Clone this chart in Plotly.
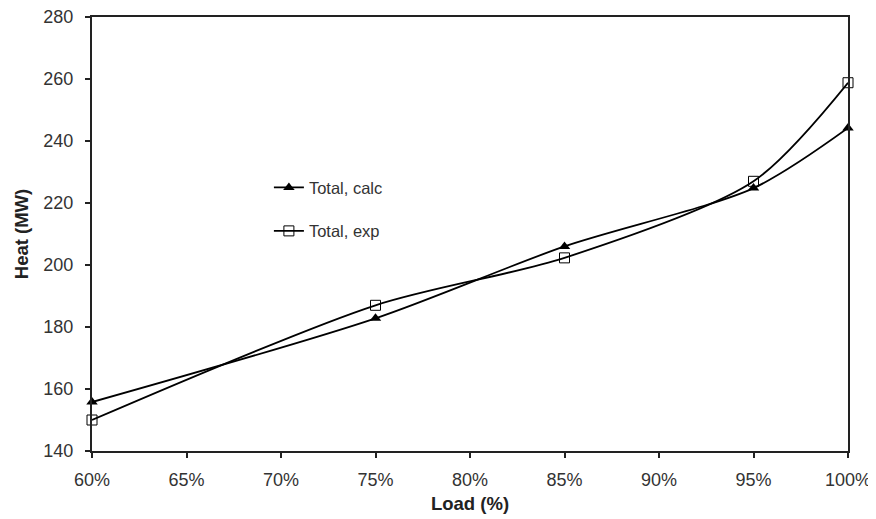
import plotly.graph_objects as go

load = [60, 75, 85, 95, 100]
calc = [155.8, 182.8, 206.0, 224.8, 244.2]
exp_ = [150.0, 187.0, 202.3, 227.0, 258.8]
x_ticks = [60, 65, 70, 75, 80, 85, 90, 95, 100]
x_labels = [f"{v}%" for v in x_ticks]

fig = go.Figure()
fig.add_trace(go.Scatter(
    x=load, y=calc, name="Total, calc", mode="lines+markers", legendgroup="a",
    line=dict(color="black", width=1.8, shape="spline", smoothing=0.8),
    marker=dict(symbol="triangle-up", size=10, color="black"),
    cliponaxis=False,
))
fig.add_trace(go.Scatter(
    x=load, y=exp_, name="Total, exp", mode="lines+markers", legendgroup="b",
    line=dict(color="black", width=1.8, shape="spline", smoothing=0.8),
    marker=dict(symbol="square-open", size=10, color="black", line=dict(width=1)),
    cliponaxis=False,
))

font = "Liberation Sans, Arial, sans-serif"
fig.update_layout(
    width=868, height=511,
    margin=dict(l=84, r=28, t=9, b=68, autoexpand=False),
    paper_bgcolor="white", plot_bgcolor="white",
    font=dict(family=font, size=18, color="#333"),
    showlegend=True,
    legend=dict(x=0.234, y=0.647, xanchor="left", yanchor="top",
                bgcolor="rgba(0,0,0,0)", tracegroupgap=19,
                traceorder="grouped", font=dict(size=16.5, color="#333"),
                itemwidth=30),
    xaxis=dict(
        range=[60, 100], tickvals=x_ticks, ticktext=x_labels,
        showgrid=False, zeroline=False, showline=True, linecolor="#222",
        linewidth=2, mirror=True, ticks="outside", ticklen=5, tickwidth=2,
        tickcolor="#222", tickfont=dict(size=18, color="#333"),
        ticklabeloverflow="allow", ticklabelstandoff=6,
        title=dict(text="<b>Load (%)</b>", font=dict(size=18.5, color="#222"), standoff=8),
    ),
    yaxis=dict(
        range=[140, 280], dtick=20,
        showgrid=False, zeroline=False, showline=True, linecolor="#222",
        linewidth=2, mirror=True, ticks="outside", ticklen=5, tickwidth=2,
        tickcolor="#222", tickfont=dict(size=18, color="#333"),
        ticklabeloverflow="allow", ticklabelstandoff=8,
        title=dict(text="<b>Heat (MW)</b>", font=dict(size=18.5, color="#222"), standoff=10),
    ),
)
fig.write_html("out.html")
